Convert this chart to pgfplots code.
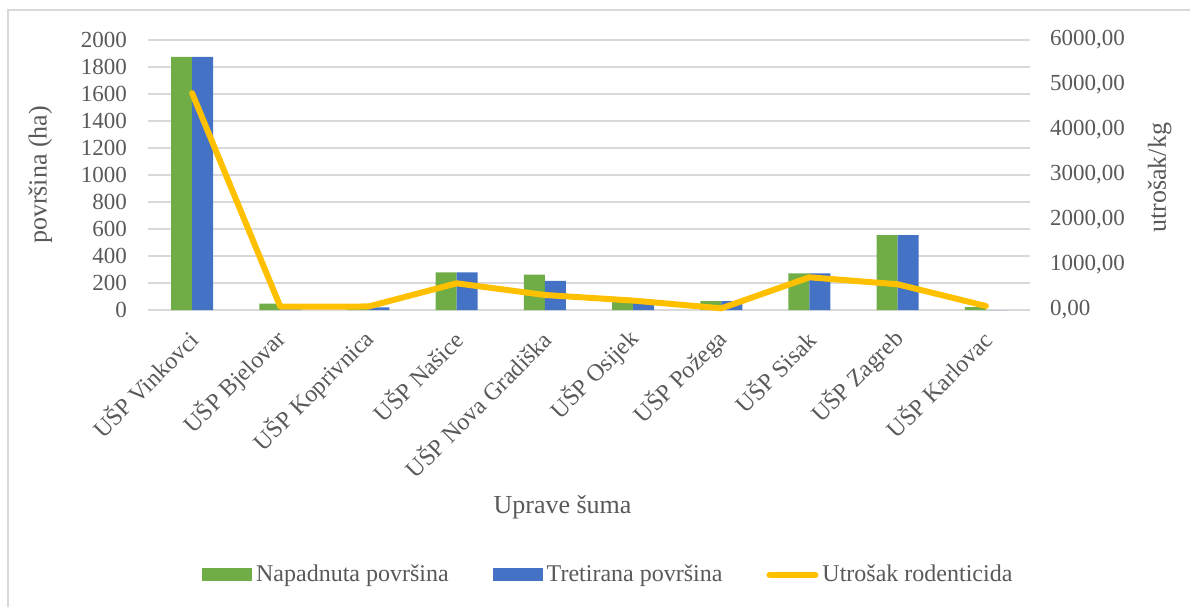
\documentclass[border=0pt]{standalone}
\usepackage{pgfplots}
\pgfplotsset{compat=1.18}
\usepackage{fontspec}
\setmainfont{Liberation Serif}
\definecolor{cgreen}{HTML}{70AD47}
\definecolor{cblue}{HTML}{4472C4}
\definecolor{cyel}{HTML}{FFC000}
\definecolor{cgrid}{HTML}{D9D9D9}
\definecolor{ctext}{HTML}{595959}
\begin{document}
\begin{tikzpicture}
\path[use as bounding box] (0,0) rectangle (595pt,303pt);
\draw[cgrid, line width=0.6pt] (4pt,-1pt) -- (4pt,298pt) -- (600pt,298pt);
\begin{axis}[
  at={(74pt,148pt)}, anchor=south west,
  scale only axis, width=441pt, height=135pt,
  xmin=-0.5, xmax=9.5, ymin=0, ymax=2000,
  ytick={0,200,...,2000},
  xtick={0,...,9},
  xticklabels={UŠP Vinkovci,UŠP Bjelovar,UŠP Koprivnica,UŠP Našice,UŠP Nova Gradiška,UŠP Osijek,UŠP Požega,UŠP Sisak,UŠP Zagreb,UŠP Karlovac},
  x tick label style={xshift=3.2pt, yshift=-10pt, rotate=45, anchor=east, font=\fontsize{12}{14}\selectfont, text=ctext},
  y tick label style={font=\fontsize{11.5}{13}\selectfont, text=ctext, xshift=-7pt},
  /pgf/number format/assume math mode=true,
  /pgf/number format/1000 sep={},
  major tick length=0pt,
  axis line style={draw=none},
  ymajorgrids, grid style={cgrid, line width=1pt},
  ybar=0pt, bar width=10.5pt,
  ylabel={površina (ha)}, ylabel style={font=\fontsize{13}{15}\selectfont, text=ctext, at={(axis description cs:-0.122,0.5)}, anchor=center},
  xlabel={Uprave šuma}, xlabel style={font=\fontsize{13}{15}\selectfont, text=ctext, at={(axis description cs:0.47,-0.73)}, anchor=center},
  legend columns=3,
  legend style={draw=none, at={(axis description cs:0.523,-0.98)}, anchor=center, font=\fontsize{12}{14}\selectfont, text=ctext, /tikz/every even column/.append style={column sep=20pt}},
  clip=false,
]
\addplot[fill=cgreen, draw=none, area legend, legend image code/.code={\fill[cgreen] (0pt,-3.2pt) rectangle (25pt,3.2pt);}] coordinates {(0,1875) (1,47) (2,20) (3,279) (4,262) (5,75) (6,66) (7,272) (8,555) (9,22)};
\addlegendentry{Napadnuta površina}
\addplot[fill=cblue, draw=none, area legend, legend image code/.code={\fill[cblue] (0pt,-3.2pt) rectangle (25pt,3.2pt);}] coordinates {(0,1875) (1,5) (2,20) (3,279) (4,215) (5,75) (6,66) (7,272) (8,555) (9,0)};
\addlegendentry{Tretirana površina}
\addlegendimage{legend image code/.code={\draw[cyel, line width=3pt, line cap=round] (1pt,0pt) -- (24pt,0pt);}}
\addlegendentry{Utrošak rodenticida}
\end{axis}
\begin{axis}[
  at={(74pt,148pt)}, anchor=south west,
  scale only axis, width=441pt, height=135pt,
  xmin=-0.5, xmax=9.5, ymin=0, ymax=6000,
  ytick={0,1000,...,6000},
  axis y line*=right, axis x line=none,
  axis line style={draw=none},
  major tick length=0pt,
  y tick label style={font=\fontsize{11.5}{13}\selectfont, text=ctext, xshift=6.5pt},
  /pgf/number format/assume math mode=true,
  /pgf/number format/.cd, fixed, fixed zerofill, precision=2, use comma, 1000 sep={},
  /pgfplots/.cd,
  ylabel={utrošak/kg}, ylabel style={font=\fontsize{13}{15}\selectfont, text=ctext, at={(axis description cs:1.147,0.49)}, anchor=center, rotate=0},
  clip=false,
]
\addplot[cyel, line width=3pt, line join=round, line cap=round, mark=none] coordinates {(0,4820) (1,75) (2,78) (3,593) (4,333) (5,210) (6,37) (7,727) (8,571) (9,89)};
\end{axis}
\end{tikzpicture}
\end{document}
